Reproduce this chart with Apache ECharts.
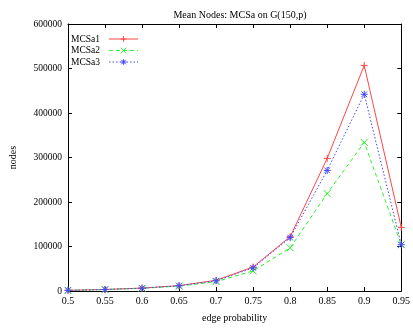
<!DOCTYPE html>
<html>
<head>
<meta charset="utf-8">
<script src="https://cdn.jsdelivr.net/npm/echarts@6/dist/echarts.min.js"></script>
<style>
  html, body { margin: 0; padding: 0; background: #ffffff; }
  #chart { width: 413px; height: 328px; }
</style>
</head>
<body>
<div id="chart"></div>
<script>
// 数据
const edgeProb = [0.5, 0.55, 0.6, 0.65, 0.7, 0.75, 0.8, 0.85, 0.9, 0.95];
const mcsa1 = [1500, 3500, 6500, 12000, 24000, 54000, 122000, 298000, 507000, 143000];
const mcsa2 = [1400, 3200, 6000, 11000, 21000, 45000, 97000, 219000, 334000, 104000];
const mcsa3 = [1500, 3400, 6300, 12000, 23000, 52000, 120000, 271000, 442000, 104000];
const seriesNames = ["MCSa1", "MCSa2", "MCSa3"];

const chartInstance = echarts.init(document.getElementById("chart"));

// gnuplot 风格的点
const plusPath = "path://M0,5L10,5M5,0L5,10";
const crossPath = "path://M0,0L10,10M0,10L10,0";
const starPath = "path://M0,5L10,5M5,0L5,10M1,1L9,9M1,9L9,1";

const font = "Liberation Serif";

function makeSeries(name, values, color, lineType, symbol) {
  return {
    name: name,
    type: "line",
    data: edgeProb.map((p, i) => [p, values[i]]),
    symbol: symbol,
    symbolSize: 7,
    showSymbol: true,
    color: color,
    itemStyle: { color: color, borderColor: color, borderWidth: 1 },
    lineStyle: { color: color, width: 1, type: lineType },
    emphasis: { disabled: true },
    animation: false,
  };
}

const tickStyle = { show: true, inside: true, length: 4, lineStyle: { color: "#000", width: 1 } };
const lineStyleAxis = { show: true, onZero: false, lineStyle: { color: "#000", width: 1 } };

const option = {
  backgroundColor: "#ffffff",
  animation: false,
  title: {
    text: "Mean Nodes: MCSa on G(150,p)",
    left: 235,
    textAlign: "center",
    top: 5,
    textStyle: { fontFamily: font, fontSize: 10, fontWeight: "normal", color: "#000" },
  },
  legend: {
    data: seriesNames,
    orient: "vertical",
    left: 66,
    top: 29,
    align: "right",
    itemWidth: 29,
    itemHeight: 7,
    itemGap: 1.5,
    itemStyle: { borderWidth: 1 },
    lineStyle: { width: 1 },
    textStyle: { fontFamily: font, fontSize: 9.5, color: "#000", padding: [0, 4, 0, 0] },
    selectedMode: false,
  },
  grid: { left: 66, right: 9, top: 24, bottom: 29, containLabel: false },
  xAxis: [
    {
      type: "value",
      min: 0.5,
      max: 0.95,
      interval: 0.05,
      name: "edge probability",
      nameLocation: "middle",
      nameGap: 22,
      nameTextStyle: { fontFamily: font, fontSize: 10, color: "#000" },
      axisLine: lineStyleAxis,
      axisTick: tickStyle,
      axisLabel: {
        fontFamily: font, fontSize: 10, color: "#000", margin: 5,
        formatter: (v) => String(+v.toFixed(2)),
      },
      splitLine: { show: false },
    },
    {
      type: "value",
      position: "top",
      min: 0.5,
      max: 0.95,
      interval: 0.05,
      axisLine: lineStyleAxis,
      axisTick: tickStyle,
      axisLabel: { show: false },
      splitLine: { show: false },
    },
  ],
  yAxis: [
    {
      type: "value",
      min: 0,
      max: 600000,
      interval: 100000,
      name: "nodes",
      nameLocation: "middle",
      nameGap: 50,
      nameTextStyle: { fontFamily: font, fontSize: 10, color: "#000" },
      axisLine: lineStyleAxis,
      axisTick: tickStyle,
      axisLabel: {
        fontFamily: font, fontSize: 9.5, color: "#000", margin: 6,
        formatter: (v) => String(v),
      },
      splitLine: { show: false },
    },
    {
      type: "value",
      position: "right",
      min: 0,
      max: 600000,
      interval: 100000,
      axisLine: lineStyleAxis,
      axisTick: tickStyle,
      axisLabel: { show: false },
      splitLine: { show: false },
    },
  ],
  series: [
    makeSeries(seriesNames[0], mcsa1, "#ff4545", "solid", plusPath),
    makeSeries(seriesNames[1], mcsa2, "#30f030", [4, 3], crossPath),
    makeSeries(seriesNames[2], mcsa3, "#4545ff", [1.5, 2], starPath),
  ],
};

chartInstance.setOption(option);
</script>
</body>
</html>
